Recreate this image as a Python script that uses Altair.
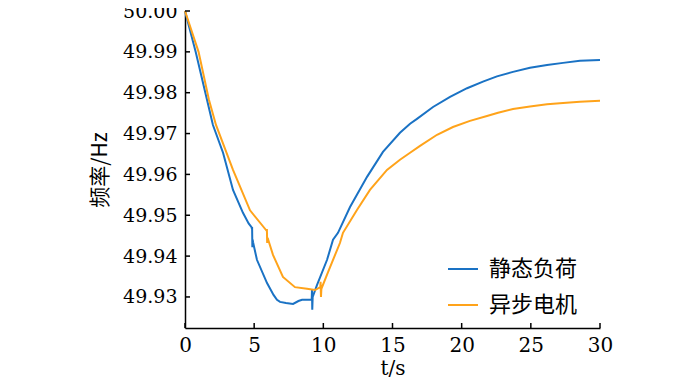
import altair as alt
import pandas as pd

# 静态负荷 (static load)
t_static = [0, 0.77, 1.59, 2.02, 2.75, 3.47, 4.19, 4.6, 4.82, 4.84, 4.85, 4.87, 4.89, 4.92,
            5.2, 5.93, 6.4, 6.65, 6.87, 7.3, 7.81, 8.2, 8.46, 9.16, 9.18, 9.20, 9.23,
            9.54, 10.27, 10.7, 11.06, 11.93, 13.16, 14.31, 15.54, 16.27, 16.77, 17.93,
            19.16, 20.39, 21.54, 22.55, 23.71, 24.94, 26.17, 27.33, 28.55, 30.0]
f_static = [50.000, 49.990, 49.9783, 49.9721, 49.9653, 49.9562, 49.9506, 49.9480, 49.9470,
            49.9466, 49.9471, 49.9422, 49.9440, 49.9434,
            49.9391, 49.9334, 49.9305, 49.9293, 49.9288, 49.9285, 49.9283, 49.9290, 49.9293,
            49.9293, 49.9317, 49.9269, 49.9300,
            49.9329, 49.9391, 49.9440, 49.9457, 49.9520, 49.9594, 49.9655, 49.9702, 49.9724,
            49.9736, 49.9765, 49.9790, 49.9811, 49.9827, 49.9840, 49.9851, 49.9861, 49.9868,
            49.9873, 49.9878, 49.9880]

# 异步电机 (induction motor)
t_motor = [0, 0.98, 1.73, 2.24, 3.47, 4.70, 5.90, 5.92, 5.94, 5.97, 6.36, 7.08, 7.95,
           8.82, 9.40, 9.78, 9.80, 9.83, 9.86, 10.34, 11.2, 11.42, 12.43, 13.37, 14.60,
           15.54, 16.27, 16.99, 18.22, 19.37, 20.60, 21.83, 22.63, 23.71, 24.94, 26.17,
           27.33, 28.55, 30.0]
f_motor = [50.000, 49.990, 49.9783, 49.9721, 49.9611, 49.9512, 49.9462, 49.9466, 49.9432,
           49.9445, 49.9403, 49.9349, 49.9324, 49.9320, 49.9317, 49.9324, 49.9337, 49.9300,
           49.9320, 49.9361, 49.9432, 49.9457, 49.9513, 49.9562, 49.9611, 49.9636, 49.9653,
           49.9670, 49.9697, 49.9716, 49.9731, 49.9743, 49.9751, 49.9760, 49.9766, 49.9772,
           49.9775, 49.9778, 49.9780]

series_names = ["静态负荷", "异步电机"]
series_colors = ["#1a72c4", "#ffa31a"]
x_ticks = [0, 5, 10, 15, 20, 25, 30]
y_ticks = [49.93, 49.94, 49.95, 49.96, 49.97, 49.98, 49.99, 50.00]
x_min, x_max = 0, 30
y_min, y_max = 49.9224, 50.0

df = pd.concat([
    pd.DataFrame({"t": t_static, "f": f_static, "s": series_names[0], "o": range(len(t_static))}),
    pd.DataFrame({"t": t_motor, "f": f_motor, "s": series_names[1], "o": range(len(t_motor))}),
])
xt = pd.DataFrame({"t": x_ticks})
yt = pd.DataFrame({"f": y_ticks})

W, H = 415, 317
TICK = 5
serif = "DejaVu Serif"
cjk = "Noto Sans CJK SC"
xscale = alt.Scale(domain=[x_min, x_max], nice=False)
yscale = alt.Scale(domain=[y_min, y_max], nice=False, zero=False)

xaxis = alt.Axis(
    values=x_ticks, format="d", ticks=False, grid=False, labelFlush=False,
    domainColor="black", domainWidth=1.5, labelFont=serif, labelFontSize=20,
    labelColor="black", labelPadding=7, title="t/s", titleFont=serif,
    titleFontSize=20, titleFontWeight="normal", titleColor="black", titlePadding=3)
yaxis = alt.Axis(
    values=y_ticks, format=".2f", ticks=False, grid=False, labelFlush=False,
    domainColor="black", domainWidth=1.5, labelFont=serif, labelFontSize=19,
    labelColor="black", labelPadding=8, title="频率/Hz", titleFont=cjk,
    titleFontSize=21, titleFontWeight="normal", titleColor="black", titlePadding=12)

lines = alt.Chart(df).mark_line(strokeWidth=2).encode(
    x=alt.X("t:Q", scale=xscale, axis=xaxis),
    y=alt.Y("f:Q", scale=yscale, axis=yaxis),
    color=alt.Color("s:N", scale=alt.Scale(domain=series_names, range=series_colors),
                    legend=alt.Legend(title=None, orient="none", legendX=262, legendY=242,
                                      symbolType="stroke", symbolSize=900, symbolStrokeWidth=2,
                                      labelFont=cjk, labelFontSize=22, labelColor="black",
                                      labelOffset=10, rowPadding=9)),
    order="o:Q",
)

# inward axis ticks
xticks_layer = alt.Chart(xt).mark_rule(color="black", strokeWidth=1.5).encode(
    x=alt.X("t:Q", scale=xscale, axis=xaxis),
    y=alt.value(H), y2=alt.value(H - TICK))
yticks_layer = alt.Chart(yt).mark_rule(color="black", strokeWidth=1.5).encode(
    y=alt.Y("f:Q", scale=yscale, axis=yaxis),
    x=alt.value(0), x2=alt.value(TICK))

chart = alt.layer(lines, xticks_layer, yticks_layer).properties(
    width=W, height=H,
    autosize=alt.AutoSizeParams(type="none"),
    padding={"left": 177, "top": 3, "right": 92, "bottom": 52},
).configure_view(stroke=None)

chart.save("out.html", embed_options={"renderer": "svg", "actions": False})
